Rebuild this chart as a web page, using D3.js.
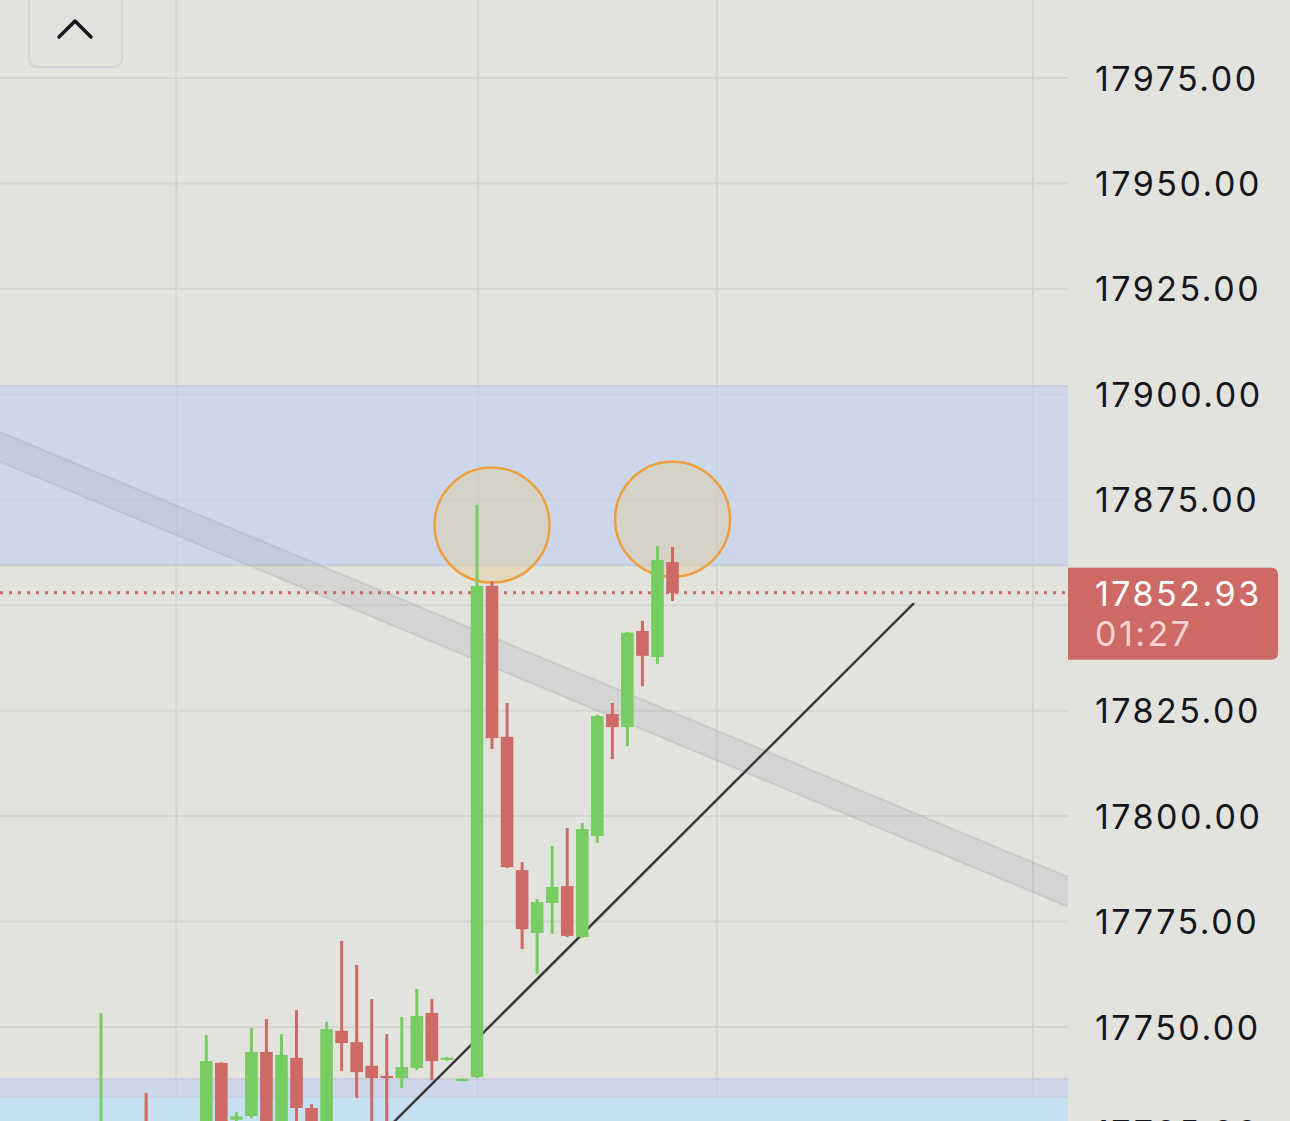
<!DOCTYPE html>
<html>
<head>
<meta charset="utf-8">
<script src="https://cdn.jsdelivr.net/npm/d3@7"></script>
<style>
  html, body { margin: 0; padding: 0; background: #e3e3de; overflow: hidden; }
  svg { display: block; }
</style>
</head>
<body>
<svg id="chart" width="1290" height="1121"></svg>
<script>
// ---------- DATA ----------
const candleIndex = [0, 3, 7, 8, 9, 10, 11, 12, 13, 14, 15, 16, 17, 18, 19, 20, 21, 22, 23, 24, 25, 26, 27, 28, 29, 30, 31, 32, 33, 34, 35, 36, 37, 38];
const opens  = [17712, 17724, 17716, 17741.5, 17728.0, 17728.9, 17744.1, 17722, 17742.7, 17730.8, 17720, 17749.1, 17746.4, 17740.8, 17738.4, 17737.9, 17740.3, 17753.3, 17742.2, 17737.2, 17738.1, 17854.6, 17818.8, 17787.2, 17772.3, 17779.4, 17783.4, 17771.3, 17795.3, 17824.2, 17821.1, 17843.9, 17837.7, 17860.2];
const highs  = [17753.3, 17734.4, 17748.1, 17741.6, 17729.8, 17749.8, 17751.9, 17748.3, 17754.0, 17731.7, 17751.2, 17770.4, 17764.7, 17756.6, 17748.3, 17752.4, 17759.0, 17756.6, 17742.9, 17737.8, 17873.8, 17855.7, 17826.8, 17789.1, 17780.3, 17792.9, 17797.2, 17798.4, 17824.0, 17826.8, 17843.7, 17846.3, 17864.0, 17863.8];
const lows   = [17708, 17712, 17712, 17714, 17725, 17728.4, 17716, 17718, 17727, 17718, 17716, 17739.6, 17733.2, 17722, 17720, 17735.5, 17739.8, 17737.4, 17742.0, 17737.1, 17737.9, 17815.9, 17787.7, 17768.5, 17762.6, 17772.1, 17771.3, 17771.2, 17793.6, 17813.5, 17816.6, 17830.8, 17836.1, 17851.0];
const closes = [17720, 17716, 17741.9, 17718, 17728.8, 17744.1, 17720, 17743.4, 17730.8, 17722, 17749.5, 17746.2, 17739.3, 17737.9, 17737.9, 17740.5, 17752.6, 17741.9, 17742.7, 17737.7, 17854.6, 17818.5, 17787.9, 17773.2, 17779.6, 17783.2, 17771.6, 17796.9, 17823.7, 17821.1, 17843.5, 17838.0, 17860.7, 17852.93];

const priceTicks = [17725, 17750, 17775, 17800, 17825, 17850, 17875, 17900, 17925, 17950, 17975];
const timeGridIndex = [5, 25.07, 40.96, 61.97];

const lastPrice = 17852.93;
const countdown = "01:27";

// zones [top price, bottom price]
const zoneUpper = [17902.0, 17859.5];
const zoneLower = [17737.7, 17690];
const zoneLowerInner = [17733.4, 17690];

// descending channel: [index, price] endpoints of upper edge, plus width in price
const channelStart = [-6.715, 17891.1];
const channelEnd = [64.3, 17785.6];
const channelWidth = 7.1;

// rising trend line
const trendStart = [18.55, 17724.2];
const trendEnd = [54.0, 17850.3];

// highlight circles [index, price]
const circleCenters = [[26, 17869.0], [38, 17870.4]];

// ---------- LAYOUT ----------
const W = 1290, H = 1121;
const plotW = 1068;
const svg = d3.select("#chart");

const x = d3.scaleLinear().domain([-6.715, 64.295]).range([0, plotW]);
const y = d3.scaleLinear().domain([17975, 17750]).range([78, 1027]);

const GREEN = "#77cc62", RED = "#cd6a66";
const FONT = "Inter, 'Noto Sans', sans-serif";

svg.append("rect").attr("width", W).attr("height", H).attr("fill", "#e3e3de");

svg.append("defs").append("clipPath").attr("id", "plotClip")
  .append("rect").attr("x", 0).attr("y", 0).attr("width", plotW).attr("height", H);

const plot = svg.append("g").attr("clip-path", "url(#plotClip)");

// grid
plot.append("g").selectAll("line.h").data(priceTicks).join("line")
  .attr("x1", 0).attr("x2", plotW)
  .attr("y1", d => y(d)).attr("y2", d => y(d))
  .attr("stroke", "#d6d6d1").attr("stroke-width", 2);

plot.append("g").selectAll("line.v").data(timeGridIndex).join("line")
  .attr("x1", d => x(d)).attr("x2", d => x(d))
  .attr("y1", 0).attr("y2", H)
  .attr("stroke", "#d6d6d1").attr("stroke-width", 2);

// zones
function zone(z, fill, stroke) {
  plot.append("rect")
    .attr("x", 0).attr("width", plotW)
    .attr("y", y(z[0])).attr("height", y(z[1]) - y(z[0]))
    .attr("fill", fill);
  if (stroke) {
    plot.append("line").attr("x1", 0).attr("x2", plotW)
      .attr("y1", y(z[0])).attr("y2", y(z[0]))
      .attr("stroke", stroke).attr("stroke-width", 2);
    plot.append("line").attr("x1", 0).attr("x2", plotW)
      .attr("y1", y(z[1])).attr("y2", y(z[1]))
      .attr("stroke", stroke).attr("stroke-width", 2);
  }
}
zone(zoneUpper, "rgba(190,210,240,0.62)", "rgba(200,205,218,0.9)");
zone(zoneLower, "rgba(190,210,240,0.62)", "rgba(200,205,218,0.9)");
zone(zoneLowerInner, "rgba(195,228,245,0.7)", null);
plot.append("line").attr("x1", 0).attr("x2", plotW)
  .attr("y1", y(zoneLowerInner[0])).attr("y2", y(zoneLowerInner[0]))
  .attr("stroke", "rgba(200,208,222,0.9)").attr("stroke-width", 2);

// channel band
const chPts = [
  [x(channelStart[0]), y(channelStart[1])],
  [x(channelEnd[0]), y(channelEnd[1])],
  [x(channelEnd[0]), y(channelEnd[1] - channelWidth)],
  [x(channelStart[0]), y(channelStart[1] - channelWidth)]
];
plot.append("path")
  .attr("d", d3.line()(chPts) + "Z")
  .attr("fill", "rgba(160,160,170,0.22)");
plot.append("line")
  .attr("x1", chPts[0][0]).attr("y1", chPts[0][1]).attr("x2", chPts[1][0]).attr("y2", chPts[1][1])
  .attr("stroke", "rgba(150,150,165,0.22)").attr("stroke-width", 2);
plot.append("line")
  .attr("x1", chPts[3][0]).attr("y1", chPts[3][1]).attr("x2", chPts[2][0]).attr("y2", chPts[2][1])
  .attr("stroke", "rgba(150,150,165,0.22)").attr("stroke-width", 2);

// highlight circles (under candles)
plot.append("g").selectAll("circle").data(circleCenters).join("circle")
  .attr("cx", d => x(d[0])).attr("cy", d => y(d[1])).attr("r", 57.5)
  .attr("fill", "rgba(232,196,132,0.33)")
  .attr("stroke", "#eea03e").attr("stroke-width", 2.5);

// trend line
plot.append("line")
  .attr("x1", x(trendStart[0])).attr("y1", y(trendStart[1]))
  .attr("x2", x(trendEnd[0])).attr("y2", y(trendEnd[1]))
  .attr("stroke", "#3a3a3c").attr("stroke-width", 2.5).attr("stroke-linecap", "round");

// last price dotted line
plot.append("line")
  .attr("x1", 0).attr("x2", plotW)
  .attr("y1", y(lastPrice)).attr("y2", y(lastPrice))
  .attr("stroke", RED).attr("stroke-width", 3).attr("stroke-dasharray", "3,6");

// candles
const candles = candleIndex.map((d, k) => ({ i: d, o: opens[k], h: highs[k], l: lows[k], c: closes[k] }));
const bodyW = 12.6, wickW = 3;
const cg = plot.append("g");
cg.selectAll("rect.wick").data(candles).join("rect")
  .attr("x", d => x(d.i) - wickW / 2).attr("width", wickW)
  .attr("y", d => y(d.h)).attr("height", d => Math.max(1, y(d.l) - y(d.h)))
  .attr("fill", d => d.c >= d.o ? GREEN : RED);
cg.selectAll("rect.body").data(candles).join("rect")
  .attr("x", d => x(d.i) - bodyW / 2).attr("width", bodyW)
  .attr("y", d => y(Math.max(d.o, d.c)))
  .attr("height", d => Math.max(2, Math.abs(y(d.o) - y(d.c))))
  .attr("fill", d => d.c >= d.o ? GREEN : RED);

// ---------- PRICE AXIS ----------
const axisG = svg.append("g");
axisG.selectAll("text").data(priceTicks.filter(d => d !== 17850)).join("text")
  .attr("x", 1095).attr("y", d => y(d) + 12.5)
  .attr("font-family", FONT)
  .attr("font-size", 34)
  .attr("letter-spacing", "2.5px")
  .attr("fill", "#15161c")
  .text(d => d3.format(".2f")(d));

// last price label
const ly = y(lastPrice);
const lblTop = ly - 25, lblBot = ly + 67, lblL = plotW, lblR = 1278, rr = 7;
svg.append("path")
  .attr("d", `M${lblL},${lblTop} H${lblR - rr} Q${lblR},${lblTop} ${lblR},${lblTop + rr} V${lblBot - rr} Q${lblR},${lblBot} ${lblR - rr},${lblBot} H${lblL} Z`)
  .attr("fill", RED);
svg.append("text")
  .attr("x", 1095).attr("y", ly + 13)
  .attr("font-family", FONT).attr("font-size", 34).attr("letter-spacing", "2.5px")
  .attr("fill", "#ffffff")
  .text(d3.format(".2f")(lastPrice));
svg.append("text")
  .attr("x", 1095).attr("y", ly + 53)
  .attr("font-family", FONT).attr("font-size", 34).attr("letter-spacing", "2.5px")
  .attr("fill", "#f6d3d1")
  .text(countdown);

// ---------- COLLAPSE BUTTON ----------
svg.append("rect")
  .attr("x", 29).attr("y", -12).attr("width", 93).attr("height", 79).attr("rx", 8)
  .attr("fill", "#e3e3de").attr("stroke", "#d3d4dc").attr("stroke-width", 2);
svg.append("path")
  .attr("d", "M59,37 L75,21 L91,37")
  .attr("fill", "none").attr("stroke", "#17171d").attr("stroke-width", 3.5)
  .attr("stroke-linecap", "round").attr("stroke-linejoin", "round");
</script>
</body>
</html>
